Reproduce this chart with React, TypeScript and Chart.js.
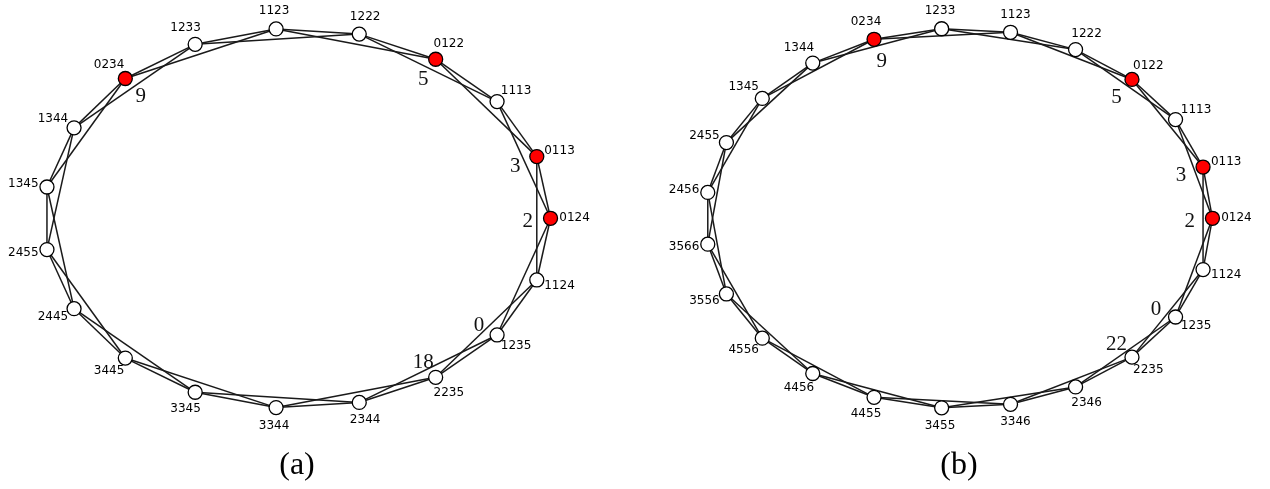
import { useEffect, useRef } from 'react';
import { Chart, registerables } from 'chart.js';

Chart.register(...registerables);

// Vertex labels, listed counter-clockwise starting from the rightmost vertex.
const GRAPH_A_NODES = ['0124', '0113', '1113', '0122', '1222', '1123', '1233', '0234', '1344', '1345', '2455', '2445', '3445', '3345', '3344', '2344', '2235', '1235', '1124'];
const GRAPH_B_NODES = ['0124', '0113', '1113', '0122', '1222', '1123', '1233', '0234', '1344', '1345', '2455', '2456', '3566', '3556', '4556', '4456', '4455', '3455', '3346', '2346', '2235', '1235', '1124'];

// Highlighted vertices (filled red).
const MARKED_NODES = ['0234', '0122', '0113', '0124'];

// Each vertex is joined to its neighbours 1 and 2 steps along the cycle.
const EDGE_STEPS = [1, 2];

// Numbers written next to selected vertices.
const COUNT_NODES = ['0234', '0122', '0113', '0124', '1235', '2235'];
const COUNTS_A = [9, 5, 3, 2, 0, 18];
const COUNTS_B = [9, 5, 3, 2, 0, 22];

const CAPTIONS = ['(a)', '(b)'];

type Vertex = { name: string; t: number; x: number; y: number };

// Vertices evenly spaced on a unit ellipse (axes are scaled by the chart).
function ellipseLayout(nodes: string[], cx: number): Vertex[] {
  return nodes.map((name, k) => {
    const t = (2 * Math.PI * k) / nodes.length;
    return { name, t, x: cx + Math.cos(t), y: Math.sin(t) };
  });
}

const GRAPHS = [
  { vertices: ellipseLayout(GRAPH_A_NODES, 0), counts: COUNTS_A, caption: CAPTIONS[0], cx: 0 },
  { vertices: ellipseLayout(GRAPH_B_NODES, 2.611), counts: COUNTS_B, caption: CAPTIONS[1], cx: 2.611 },
];

const graphText = {
  id: 'graphText',
  afterDatasetsDraw(chart: any) {
    const { ctx } = chart;
    const xs = chart.scales.x;
    const ys = chart.scales.y;
    ctx.save();
    ctx.textAlign = 'center';
    ctx.textBaseline = 'middle';
    for (const g of GRAPHS) {
      // vertex names, pushed outward from each vertex
      ctx.font = '12px "DejaVu Sans"';
      ctx.fillStyle = '#000';
      for (const v of g.vertices) {
        const px = xs.getPixelForValue(v.x);
        const py = ys.getPixelForValue(v.y);
        ctx.fillText(v.name, px + 24 * Math.cos(v.t), py - 18 * Math.sin(v.t));
      }
      // counts, placed just inside the ring
      ctx.font = '21px "Liberation Serif"';
      ctx.fillStyle = '#111';
      COUNT_NODES.forEach((name, i) => {
        const v = g.vertices.find((w) => w.name === name);
        if (!v) return;
        const px = xs.getPixelForValue(g.cx + 0.91 * Math.cos(v.t));
        const py = ys.getPixelForValue(0.89 * Math.sin(v.t));
        ctx.fillText(String(g.counts[i]), px, py + 3);
      });
      // sub-figure caption
      ctx.font = '32px "Liberation Serif"';
      ctx.fillStyle = '#000';
      ctx.fillText(g.caption, xs.getPixelForValue(g.cx), ys.getPixelForValue(-1.3));
    }
    ctx.restore();
  },
};

export default function App() {
  const canvasRef = useRef<HTMLCanvasElement | null>(null);

  useEffect(() => {
    if (!canvasRef.current) return;
    const datasets: any[] = [];
    for (const g of GRAPHS) {
      const n = g.vertices.length;
      g.vertices.forEach((v, i) => {
        for (const s of EDGE_STEPS) {
          const w = g.vertices[(i + s) % n];
          datasets.push({
            data: [{ x: v.x, y: v.y }, { x: w.x, y: w.y }],
            showLine: true,
            pointRadius: 0,
            borderColor: '#1a1a1a',
            borderWidth: 1.5,
            order: 1,
          });
        }
      });
      datasets.push({
        data: g.vertices.map((v) => ({ x: v.x, y: v.y })),
        showLine: false,
        pointRadius: 7,
        pointHoverRadius: 7,
        pointBorderWidth: 1.3,
        pointBorderColor: '#000',
        pointBackgroundColor: g.vertices.map((v) => (MARKED_NODES.includes(v.name) ? '#ff0000' : '#ffffff')),
        order: 0,
      });
    }

    const chart = new Chart(canvasRef.current, {
      type: 'scatter',
      data: { datasets },
      options: {
        animation: false,
        responsive: false,
        layout: { padding: 0, autoPadding: false },
        plugins: { legend: { display: false }, tooltip: { enabled: false }, title: { display: false } },
        scales: {
          x: { type: 'linear', display: false, min: -1.1716, max: 3.838 },
          y: { type: 'linear', display: false, min: -1.425, max: 1.149 },
        },
      },
      plugins: [graphText],
    });
    return () => chart.destroy();
  }, []);

  return (
    <canvas
      ref={canvasRef}
      width={1270}
      height={489}
      style={{ position: 'fixed', left: 0, top: 0, display: 'block', background: '#fff' }}
    />
  );
}
